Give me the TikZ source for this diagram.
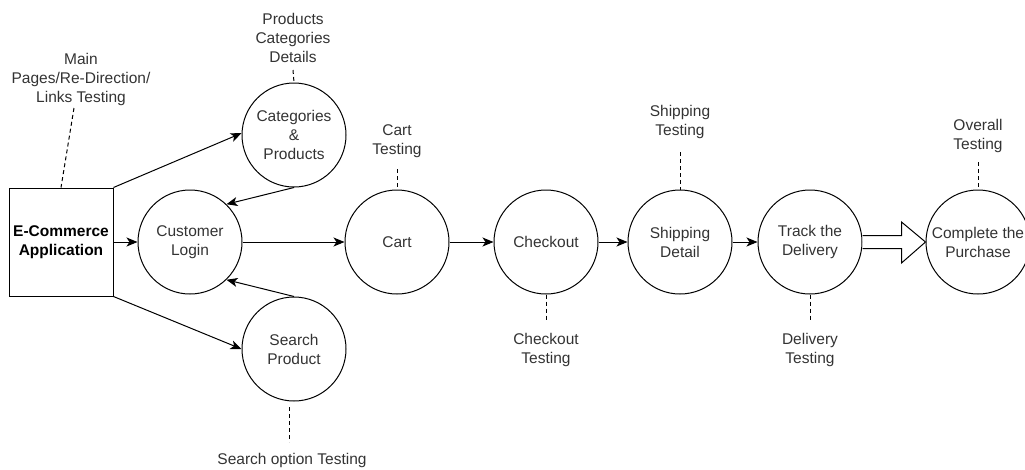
\documentclass[tikz,border=0pt]{standalone}
\usepackage{fontspec}
\setmainfont{Liberation Sans}
\usetikzlibrary{arrows.meta,calc}
\definecolor{txt}{HTML}{333333}
\tikzset{
  every node/.style={font=\fontsize{15.5}{19}\selectfont, text=txt, align=center},
  stage/.style={draw=black, circle, line width=1pt, minimum size=104pt, inner sep=0pt},
  appbox/.style={draw=black, rectangle, line width=1pt, minimum width=104pt, minimum height=108pt, inner sep=0pt, text=black, font=\fontsize{15.5}{19}\selectfont\bfseries},
  flow/.style={line width=1pt, -{Stealth[length=11pt,width=9pt,inset=3pt]}},
  note/.style={line width=1pt, dashed, dash pattern=on 4pt off 3pt},
}
\begin{document}
\begin{tikzpicture}[x=1pt,y=-1pt]
\useasboundingbox (0,0) rectangle (1025,469);
% main nodes
\node[appbox] (app) at (61,242) {E-Commerce\\Application};
\node[stage] (login) at (190,242) {Customer\\Login};
\node[stage] (cat) at (294,135) {Categories\\\&\\Products};
\node[stage] (search) at (294,349) {Search\\Product};
\node[stage] (cart) at (397,242) {Cart};
\node[stage] (check) at (546,242) {Checkout};
\node[stage] (ship) at (680,242) {Shipping\\Detail};
\node[stage] (track) at (810,242) {Track the\\Delivery};
\node[stage] (comp) at (978,242) {Complete the\\Purchase};
% labels
\node (mainL) at (81,79) {Main\\Pages/Re-Direction/\\Links Testing};
\node (prodL) at (293,38) {Products\\Categories\\Details};
\node (cartL) at (397,141) {Cart\\Testing};
\node (shipL) at (680,122) {Shipping\\Testing};
\node (overL) at (978,135.5) {Overall\\Testing};
\node (checkL) at (546,350) {Checkout\\Testing};
\node (delivL) at (810,350) {Delivery\\Testing};
\node (searchL) at (292,460) {Search option Testing};
% dashed coordinates
\coordinate (mainD) at (74,108);
\coordinate (prodD) at (293,70);
\coordinate (cartD) at (397,169);
\coordinate (shipD) at (680,152);
\coordinate (overD) at (978,162);
\coordinate (checkD) at (546,322);
\coordinate (delivD) at (810,322);
\coordinate (searchD1) at (289,407);
\coordinate (searchD2) at (289,442);
\draw[note] (mainD) -- (app.north);
\draw[note] (prodD) -- (cat.north);
\draw[note] (cartD) -- (cart.north);
\draw[note] (shipD) -- (ship.north);
\draw[note] (overD) -- (comp.north);
\draw[note] (check.south) -- (checkD);
\draw[note] (track.south) -- (delivD);
\draw[note] (searchD1) -- (searchD2);
% connectors
\draw[flow] (app.east) -- (login.west);
\draw[flow] (app.north east) -- (cat.178);
\draw[flow] (cat.south) -- (login.46);
\draw[flow] (search.north) -- (login.-46);
\draw[flow] (app.south east) -- (search.west);
\draw[flow] (login.east) -- (cart.west);
\draw[flow] (cart.east) -- (check.west);
\draw[flow] (check.east) -- (ship.west);
\draw[flow] (ship.east) -- (track.west);
% big hollow arrow
\draw[line width=1pt, fill=white] ($(track.east)+(0,-6.5)$) -- ($(comp.west)+(-24,-6.5)$) -- ($(comp.west)+(-24,-20)$) -- (comp.west) -- ($(comp.west)+(-24,21)$) -- ($(comp.west)+(-24,6.5)$) -- ($(track.east)+(0,6.5)$);
\end{tikzpicture}
\end{document}
